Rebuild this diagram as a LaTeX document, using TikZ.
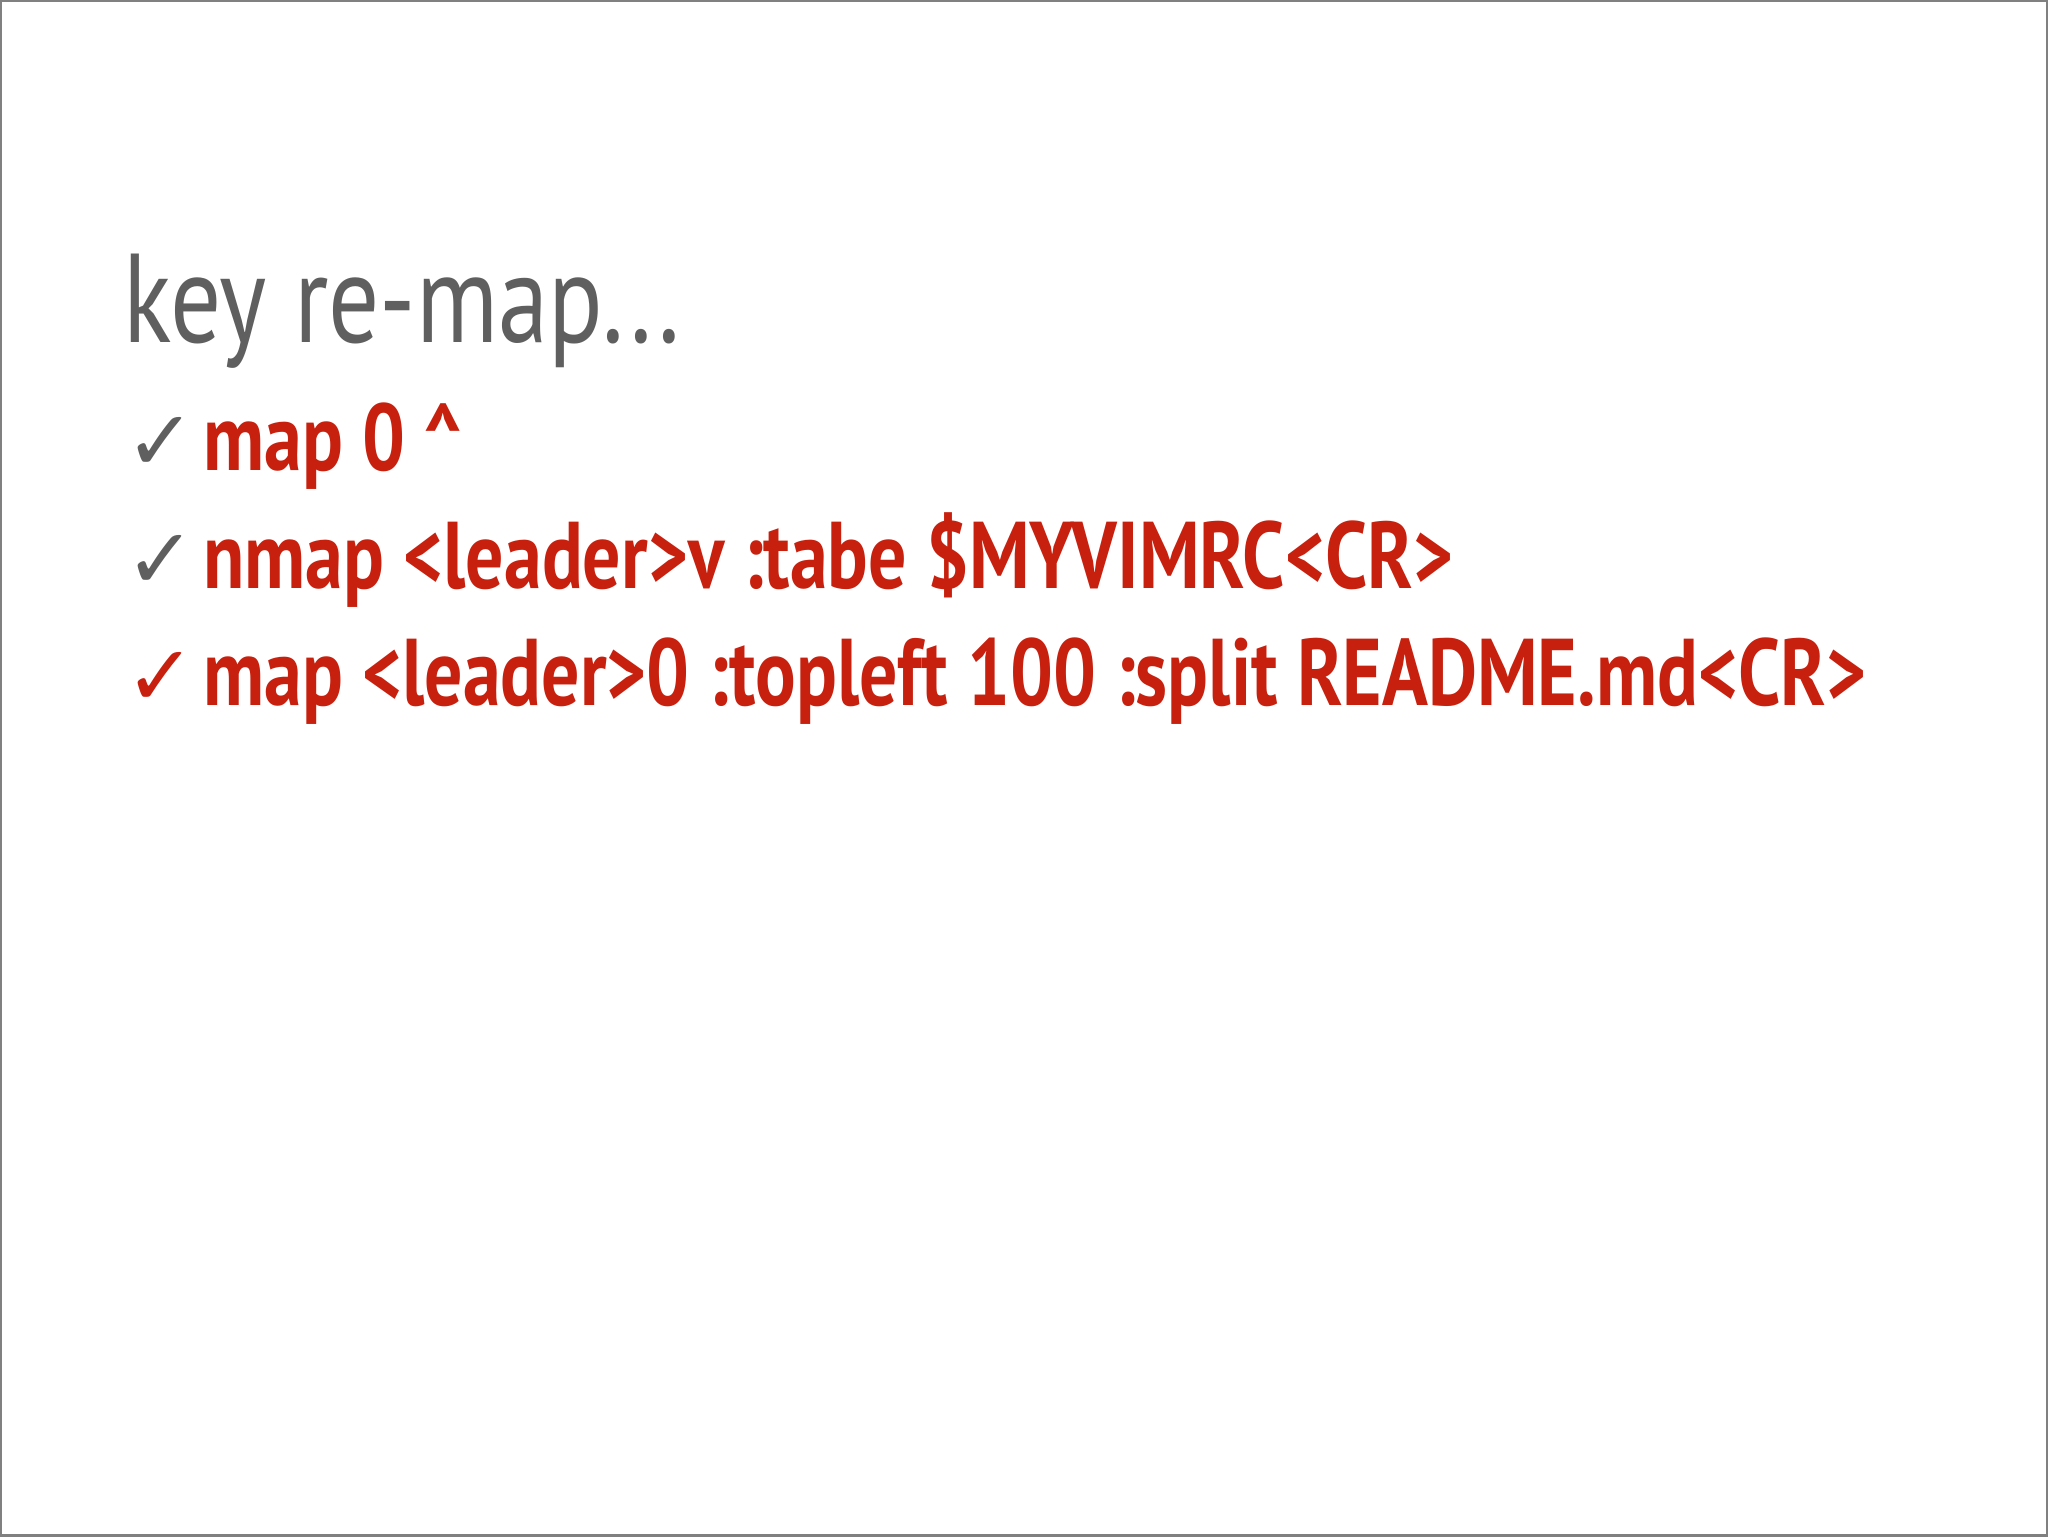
\documentclass[tikz,border=0pt]{standalone}
\usepackage{fontspec}
\setmainfont{PT Sans}
\newfontfamily\titlefont[FakeStretch=0.8]{PT Sans}
\newfontfamily\itemfont[FakeStretch=0.8]{PT Sans Bold}
\newfontfamily\symfont{DejaVu Sans}
\definecolor{slidered}{HTML}{C8200E}
\definecolor{slidegray}{HTML}{5F5F5F}
\tikzset{
  itemtext/.style={anchor=base west, inner sep=0pt, text=slidered, font=\itemfont\fontsize{27}{30}\selectfont},
  checkmark/.style={anchor=base west, inner sep=0pt, font=\symfont\fontsize{24}{28}\selectfont},
}
\begin{document}
\begin{tikzpicture}[x=1cm,y=-1cm]
\draw[gray, line width=0.6pt] (0,0) rectangle (20.48,15.36);
\node[anchor=base west, inner sep=0pt, text=slidegray, font=\titlefont\fontsize{36}{40}\selectfont] (title) at (1.22,3.42) {key re-map...};
\node[checkmark, text=slidegray] (c1) at (1.24,4.70) {✓};
\node[itemtext] (t1) at (2.02,4.70) {map 0 \^{}};
\node[checkmark, text=slidegray] (c2) at (1.24,5.88) {✓};
\node[itemtext] (t2) at (2.02,5.88) {nmap <leader>v :tabe \$MYVIMRC<CR>};
\node[checkmark, text=slidered] (c3) at (1.24,7.05) {✓};
\node[itemtext] (t3) at (2.02,7.05) {map <leader>0 :topleft 100 :split README.md<CR>};
\end{tikzpicture}
\end{document}
